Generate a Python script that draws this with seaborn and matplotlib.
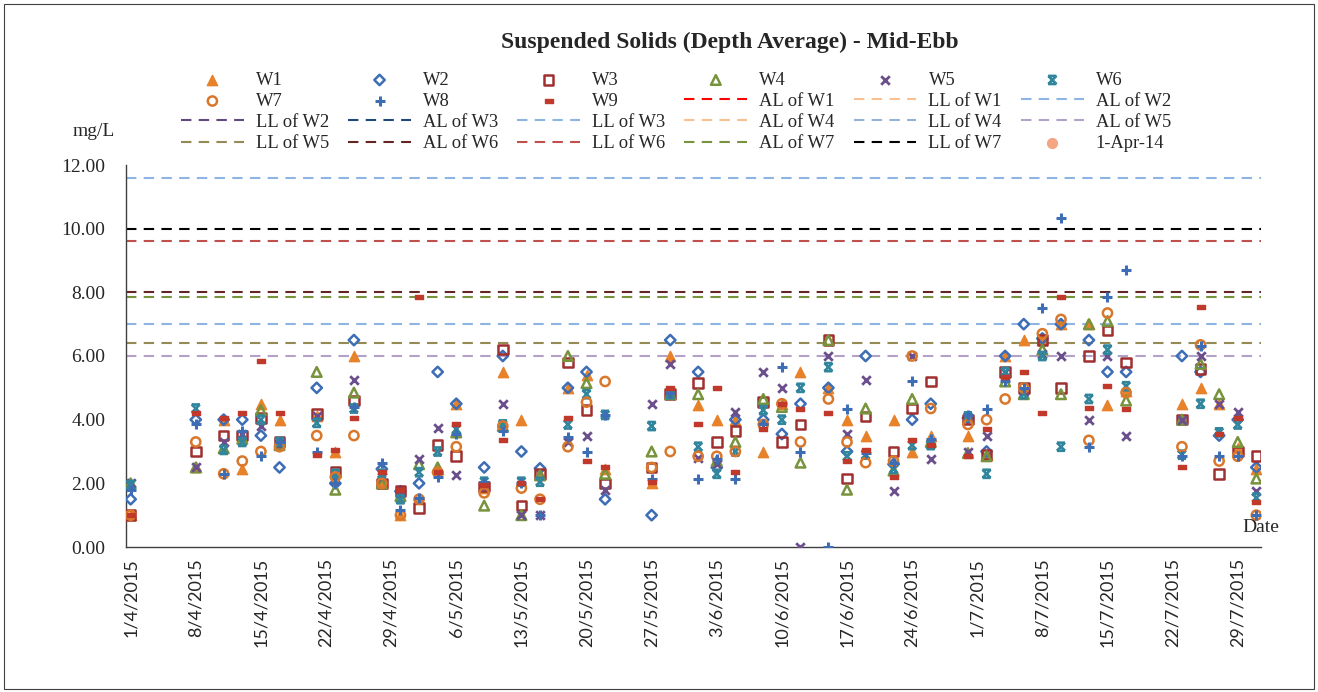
import matplotlib
matplotlib.use('Agg')
import matplotlib.pyplot as plt
import seaborn as sns
import numpy as np
import pandas as pd
from matplotlib.path import Path
from matplotlib.patches import Rectangle

# sampling dates (mid-ebb)
sample_dates = ['1/4/2015', '8/4/2015', '11/4/2015', '13/4/2015', '15/4/2015', '17/4/2015', '21/4/2015',
                '23/4/2015', '25/4/2015', '28/4/2015', '30/4/2015', '2/5/2015', '4/5/2015', '6/5/2015',
                '9/5/2015', '11/5/2015', '13/5/2015', '15/5/2015', '18/5/2015', '20/5/2015', '22/5/2015',
                '27/5/2015', '29/5/2015', '1/6/2015', '3/6/2015', '5/6/2015', '8/6/2015', '10/6/2015',
                '12/6/2015', '15/6/2015', '17/6/2015', '19/6/2015', '22/6/2015', '24/6/2015', '26/6/2015',
                '30/6/2015', '2/7/2015', '4/7/2015', '6/7/2015', '8/7/2015', '10/7/2015', '13/7/2015',
                '15/7/2015', '17/7/2015', '23/7/2015', '25/7/2015', '27/7/2015', '29/7/2015', '31/7/2015']

# suspended solids, mg/L
w1 = [1.0, 2.5, 4.0, 2.45, 4.5, 4.0, 4.1, 3.0, 6.0, 2.0, 1.0, 1.5, 2.45, 4.5, 1.85, 5.5, 4.0, 2.3, 5.0, 5.4,
      2.45, 2.0, 6.0, 4.45, 4.0, 4.0, 3.0, 4.5, 5.5, 5.0, 4.0, 3.5, 4.0, 3.0, 3.5, 3.5, 2.9, 6.0, 6.5, 6.5,
      7.0, 7.0, 4.45, 4.9, 4.5, 5.0, 4.5, 3.1, 2.45]
w2 = [1.5, 4.0, 4.0, 4.0, 3.5, 2.5, 5.0, 2.0, 6.5, 2.45, 1.75, 2.0, 5.5, 4.5, 2.5, 6.0, 3.0, 2.47, 5.0, 5.5,
      1.5, 1.0, 6.5, 5.5, 2.5, 4.0, 4.0, 3.55, 4.5, 5.0, 3.0, 6.0, 2.6, 4.0, 4.5, 4.05, 3.0, 6.0, 7.0, 6.55,
      7.0, 6.5, 5.5, 5.5, 6.0, 5.5, 3.5, 4.0, 2.5]
w3 = [1.0, 3.0, 3.5, 3.5, 4.05, 3.3, 4.17, 2.35, 4.6, 2.0, 1.75, 1.22, 3.2, 2.85, 1.9, 6.2, 1.3, 2.3, 5.8, 4.3,
      2.0, 2.5, 4.8, 5.15, 3.3, 3.65, 4.55, 3.3, 3.85, 6.5, 2.15, 4.1, 3.0, 4.35, 5.2, 4.0, 2.9, 5.5, 5.0, 6.5,
      5.0, 6.0, 6.8, 5.8, 4.0, 5.6, 2.3, 3.0, 2.85]
w4 = [2.0, 2.5, 3.1, 3.4, 4.3, 3.2, 5.5, 1.8, 4.85, 2.0, 1.6, 2.6, 2.5, 3.6, 1.3, 3.8, 1.0, 2.25, 6.0, 5.15,
      2.3, 3.0, 4.8, 4.8, 2.7, 3.3, 4.65, 4.4, 2.65, 6.5, 1.8, 4.35, 2.4, 4.65, 3.3, 2.95, 2.85, 5.2, 4.8, 6.2,
      4.8, 7.0, 7.1, 4.6, 4.0, 5.75, 4.8, 3.3, 2.15]
w5 = [2.0, 2.5, 3.3, 3.55, 3.8, 3.3, 4.1, 2.1, 5.25, 2.2, 1.7, 2.75, 3.75, 2.25, 1.9, 4.5, 1.0, 1.0, 3.3, 3.5,
      1.8, 4.5, 5.75, 2.8, 2.6, 4.25, 5.5, 5.0, 0.0, 6.0, 3.55, 5.25, 1.75, 6.0, 2.75, 3.0, 3.5, 5.5, 4.9, 6.05,
      6.0, 4.0, 6.0, 3.5, 4.0, 6.0, 4.5, 4.25, 1.75]
w6 = [1.95, 4.35, 3.05, 3.3, 4.0, 3.3, 3.9, 2.3, 4.35, 2.3, 1.5, 2.35, 3.0, 3.7, 2.05, 3.85, 2.05, 2.05, 3.85, 4.8,
      4.15, 3.8, 4.8, 3.15, 2.3, 3.0, 4.3, 4.0, 5.0, 5.65, 2.85, 2.9, 2.45, 3.2, 3.2, 4.1, 2.3, 5.5, 4.8, 6.0,
      3.15, 4.65, 6.2, 5.05, 2.9, 4.5, 3.6, 3.85, 1.55]
w7 = [1.0, 3.3, 2.3, 2.7, 3.0, 3.15, 3.5, 2.2, 3.5, 2.0, 1.0, 1.5, 2.35, 3.15, 1.7, 3.8, 1.85, 1.5, 3.15, 4.55,
      5.2, 2.5, 3.0, 2.85, 2.85, 3.0, 3.85, 4.5, 3.3, 4.65, 3.3, 2.65, 2.7, 6.0, 4.35, 3.85, 4.0, 4.65, 5.0, 6.7,
      7.15, 3.35, 7.35, 4.85, 3.15, 6.35, 2.7, 2.85, 1.0]
w8 = [1.8, 3.85, 2.3, 3.65, 2.85, 3.3, 3.0, 2.0, 4.4, 2.65, 1.15, 1.55, 2.2, 3.55, 2.05, 3.65, 2.0, 1.0, 3.45, 3.0,
      4.15, 2.15, 4.85, 2.15, 2.75, 2.15, 3.85, 5.65, 3.0, 0.0, 4.35, 2.95, 2.65, 5.2, 3.4, 4.15, 4.35, 5.2, 5.0, 7.5,
      10.35, 3.15, 7.85, 8.7, 2.85, 6.3, 2.85, 2.85, 1.0]
w9 = [1.0, 4.2, 4.05, 4.2, 5.85, 4.2, 2.9, 3.05, 4.05, 2.35, 1.8, 7.85, 2.35, 3.85, 1.95, 3.35, 2.0, 1.5, 4.05, 2.7,
      2.5, 2.05, 5.0, 3.85, 5.0, 2.35, 3.7, 4.5, 4.35, 4.2, 2.7, 3.05, 2.2, 3.35, 3.2, 2.85, 3.7, 5.35, 5.5, 4.2,
      7.85, 4.36, 5.05, 4.35, 2.5, 7.55, 3.55, 4.05, 1.4]
apr14 = []  # 1-Apr-14 reference, no point inside the plotted range

# action / limit levels (mg/L)
level_names = ['AL of W1', 'LL of W1', 'AL of W2', 'LL of W2', 'AL of W3', 'LL of W3', 'AL of W4',
               'LL of W4', 'AL of W5', 'LL of W5', 'AL of W6', 'LL of W6', 'AL of W7', 'LL of W7']
level_values = [12.9, 14.1, 11.6, 13.5, 12.4, 7.0, 12.7, 13.9, 6.0, 6.4, 8.0, 9.6, 7.85, 10.0]
level_colors = ['#FF0000', '#FAC090', '#8EB4E3', '#604A7B', '#1F497D', '#8EB4E3', '#FAC090',
                '#95B3D7', '#B3A2C7', '#948A54', '#632523', '#C0504D', '#77933C', '#000000']

sns.set_style('white')
plt.rcParams['font.family'] = ['Liberation Serif', 'DejaVu Serif']

dates = pd.to_datetime(sample_dates, format='%d/%m/%Y')
day = np.asarray((dates - pd.Timestamp('2015-04-01')).days)

# custom excel-like markers
hourglass = Path([(-1, 1), (1, 1), (-1, 1), (1, -1), (1, 1), (-1, -1), (-1, -1), (1, -1)],
                 [Path.MOVETO, Path.LINETO, Path.MOVETO, Path.LINETO,
                  Path.MOVETO, Path.LINETO, Path.MOVETO, Path.LINETO])
dash = Path([(-1, -0.4), (1, -0.4), (1, 0.4), (-1, 0.4), (-1, -0.4)],
            [Path.MOVETO, Path.LINETO, Path.LINETO, Path.LINETO, Path.CLOSEPOLY])

# name, values, marker, size, filled face, colour, edge width
series = [
    ('W1', w1, '^', 55, True, '#E8822A', 1.0),
    ('W2', w2, 'D', 28, False, '#3D6EB5', 1.8),
    ('W3', w3, 's', 48, False, '#A03030', 1.8),
    ('W4', w4, '^', 48, False, '#77933C', 1.8),
    ('W5', w5, 'x', 38, True, '#6A4F8C', 2.0),
    ('W6', w6, hourglass, 34, False, '#31859C', 1.9),
    ('W7', w7, 'o', 44, False, '#D9772B', 1.8),
    ('W8', w8, '+', 50, True, '#3D6EB5', 2.2),
    ('W9', w9, dash, 36, True, '#C0392B', 1.0),
]

fig = plt.figure(figsize=(13.18, 6.92), dpi=100)
ax = fig.add_axes([126 / 1318, 145 / 692, 1135 / 1318, 382 / 692])

for name, val, col in zip(level_names, level_values, level_colors):
    ax.axhline(val, color=col, ls=(0, (5, 3.5)), lw=1.5, label=name, zorder=2)

for name, vals, mk, s, filled, col, lw in series:
    sns.scatterplot(x=day, y=vals, marker=mk, s=s, color=col,
                    facecolor=col if filled else 'none', edgecolor=col,
                    linewidth=lw, label=name, legend=False, ax=ax, zorder=3)
ax.scatter(apr14, apr14, marker='o', s=50, color='#F4A582', label='1-Apr-14')

ax.set_xlim(-0.5, 121.5)
ax.set_ylim(0, 12)
ax.set_yticks(np.arange(0, 12.1, 2))
ax.set_yticklabels(['%.2f' % v for v in np.arange(0, 12.1, 2)])
tick_days = pd.date_range('2015-04-01', '2015-07-29', freq='7D')
ax.set_xticks((tick_days - pd.Timestamp('2015-04-01')).days)
ax.set_xticklabels(['%d/%d/%d' % (d.day, d.month, d.year) for d in tick_days], rotation=90,
                   family=['Lato', 'DejaVu Sans'])
ax.set_xticks(np.arange(-0.5, 122, 7), minor=True)
ax.tick_params(axis='x', which='major', length=0, pad=8, labelsize=13)
ax.tick_params(axis='x', which='minor', direction='in', length=5, width=1, color='#404040')
ax.tick_params(axis='y', direction='in', length=5, width=1, color='#404040', pad=15, labelsize=14)
ax.set_xlabel('')
ax.set_ylabel('')
for sp in ['top', 'right']:
    ax.spines[sp].set_visible(False)
for sp in ['left', 'bottom']:
    ax.spines[sp].set_color('#404040')
    ax.spines[sp].set_linewidth(1)

fig.text(730 / 1318, 1 - 42 / 692, 'Suspended Solids (Depth Average) - Mid-Ebb',
         ha='center', va='center', fontsize=17, fontweight='bold')
fig.text(73 / 1318, 1 - 132 / 692, 'mg/L', ha='left', va='center', fontsize=14)
fig.text(1242 / 1318, 1 - 527 / 692, 'Date', ha='left', va='center', fontsize=14)

# legend, row-major in 6 columns
handles, labels = ax.get_legend_handles_labels()
lookup = dict(zip(labels, handles))
order = ['W1', 'W2', 'W3', 'W4', 'W5', 'W6', 'W7', 'W8', 'W9'] + level_names + ['1-Apr-14']
order = [order[r * 6 + c] for c in range(6) for r in range(4)]
fig.legend([lookup[k] for k in order], order, ncol=6, mode='expand',
           bbox_to_anchor=(181 / 1318, 1 - 152 / 692, 990 / 1318, 88 / 692), loc='lower left',
           frameon=False, fontsize=13.3, handlelength=3.4, handletextpad=0.65,
           labelspacing=0.22, borderpad=0, borderaxespad=0, scatterpoints=1)

fig.patches.append(Rectangle((4 / 1318, 3 / 692), 1310 / 1318, 685 / 692, transform=fig.transFigure,
                             fill=False, edgecolor='#404040', lw=0.8))

fig.savefig('out.png', dpi=100)
